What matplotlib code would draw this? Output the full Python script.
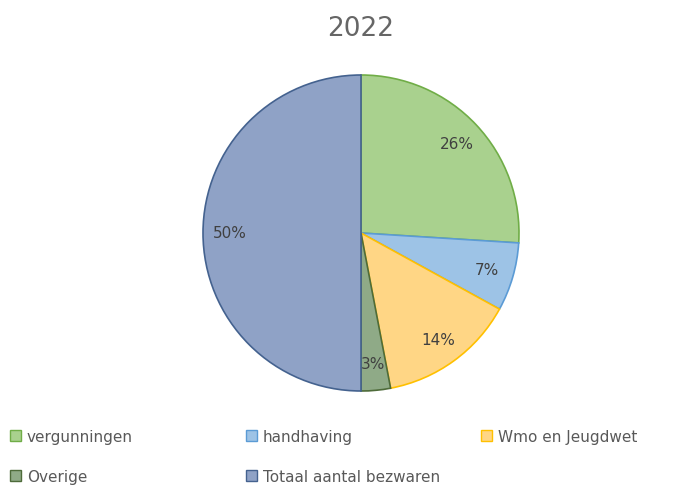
import matplotlib.pyplot as plt
from matplotlib.patches import Patch
import numpy as np

# Data
labels = ['vergunningen', 'handhaving', 'Wmo en Jeugdwet', 'Overige', 'Totaal aantal bezwaren']
values = [26, 7, 14, 3, 50]
fills = ['#A9D18E', '#9DC3E6', '#FFD685', '#8FAA87', '#8FA2C6']
edges = ['#70AD47', '#5B9BD5', '#FFC000', '#4E6B3A', '#44628F']

TEXT = '#595959'

fig = plt.figure(figsize=(6.75, 4.89), dpi=100)

# pie centre (361, 234) px, radius 158 px
cx, cy, r = 361, 234, 158
W, H = 675, 489
ax = fig.add_axes([(cx - r) / W, (H - cy - r) / H, 2 * r / W, 2 * r / H])

wedges, texts = ax.pie(values, colors=fills, startangle=90, counterclock=False,
                       wedgeprops=dict(linewidth=1.2))
for w, ec in zip(wedges, edges):
    w.set_edgecolor(ec)

# percentage labels
ang = 90.0
for v, w in zip(values, wedges):
    mid = np.deg2rad(ang - v * 3.6 / 2)
    d = 0.83
    ax.text(d * np.cos(mid), d * np.sin(mid), f'{v}%', ha='center', va='center',
            fontsize=11, color='#404040')
    ang -= v * 3.6

ax.set_xlim(-1, 1)
ax.set_ylim(-1, 1)
ax.set_aspect('equal')
ax.axis('off')

fig.text(cx / W, 1 - 29 / H, '2022', ha='center', va='center', fontsize=19, color='#666666')

# legend in three fixed columns
handles = [Patch(facecolor=f, edgecolor=e, linewidth=1) for f, e in zip(fills, edges)]
cols = [[0, 3], [1, 4], [2]]
xs = [10, 246, 481]
for col, x in zip(cols, xs):
    fig.legend([handles[i] for i in col], [labels[i] for i in col],
               loc='upper left', bbox_to_anchor=(x / W, 1 - 430 / H),
               frameon=False, fontsize=11, labelcolor=TEXT,
               handlelength=0.75, handleheight=0.75, handletextpad=0.35,
               labelspacing=1.62, borderaxespad=0, borderpad=0)

fig.savefig('out.png', dpi=100, facecolor='white')
